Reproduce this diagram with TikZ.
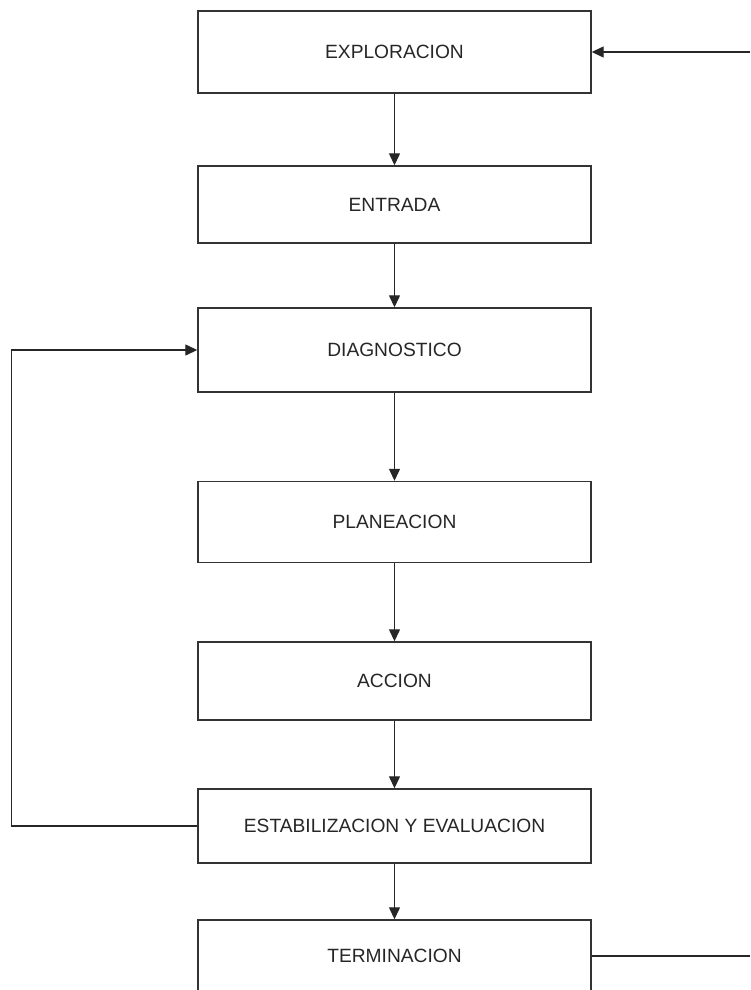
\documentclass[tikz,border=0pt]{standalone}
\usepackage{fontspec}
\setmainfont{Liberation Sans}
\usetikzlibrary{arrows.meta}
\tikzset{
    stage_node/.style = {rectangle, draw=black!80, line width=1.4pt, minimum width=393pt, align=center, inner sep=0pt, font=\fontsize{19.2}{23}\selectfont, text=black!85},
    flow/.style = {draw=black!85, line width=1.3pt, -{Triangle[length=12pt, width=11pt]}},
    plain_line/.style = {draw=black!85, line width=1.3pt}
}

\begin{document}
\begin{tikzpicture}[x=1pt, y=-1pt]
    \useasboundingbox (0,0) rectangle (750,990);

    \node [stage_node, minimum height=82pt] (exploracion) at (394.5,52) {EXPLORACION};
    \node [stage_node, minimum height=77pt] (entrada) at (394.5,204.5) {ENTRADA};
    \node [stage_node, minimum height=84pt] (diagnostico) at (394.5,350) {DIAGNOSTICO};
    \node [stage_node, minimum height=81pt] (planeacion) at (394.5,522) {PLANEACION};
    \node [stage_node, minimum height=78pt] (accion) at (394.5,681) {ACCION};
    \node [stage_node, minimum height=74pt] (estabilizacion) at (394.5,826) {ESTABILIZACION Y EVALUACION};
    \node [stage_node, minimum height=72pt] (terminacion) at (394.5,956) {TERMINACION};

    \coordinate (retorno) at (750,52);
    \coordinate (salida) at (750,956);

    \draw [flow] (exploracion) -- (entrada);
    \draw [flow] (entrada) -- (diagnostico);
    \draw [flow] (diagnostico) -- (planeacion);
    \draw [flow] (planeacion) -- (accion);
    \draw [flow] (accion) -- (estabilizacion);
    \draw [flow] (estabilizacion) -- (terminacion);

    % lazo de vuelta al diagnostico
    \draw [flow] (estabilizacion.west) -- ++(-186,0) |- (diagnostico.west);

    % lazo exterior
    \draw [plain_line] (terminacion.east) -- (salida);
    \draw [flow] (retorno) -- (exploracion.east);
\end{tikzpicture}
\end{document}
